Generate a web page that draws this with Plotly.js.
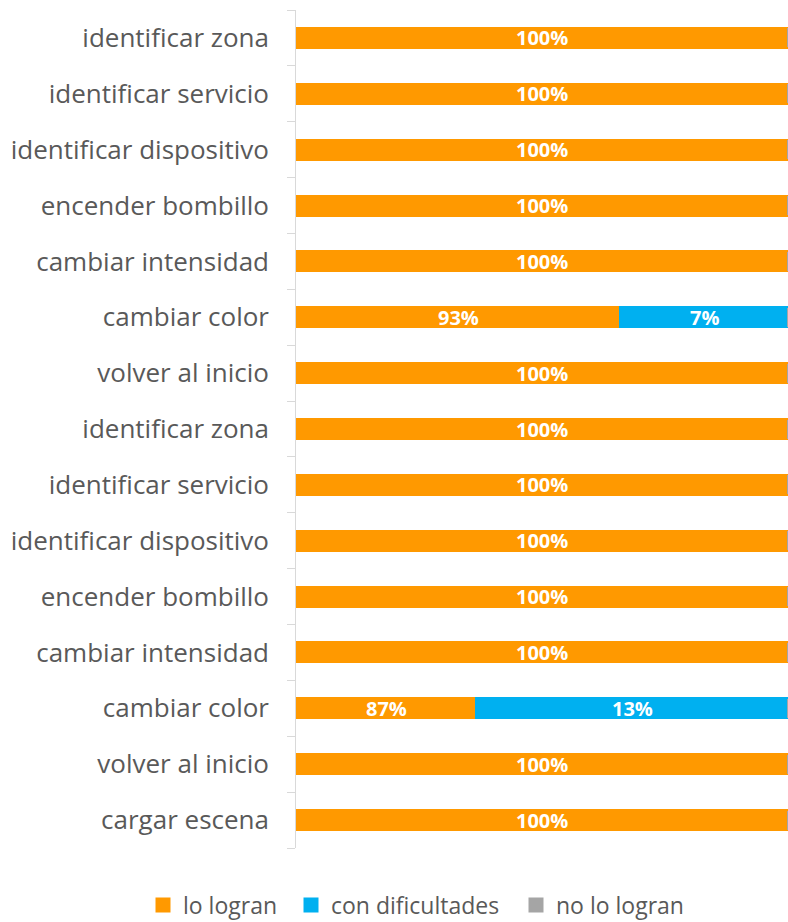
<!DOCTYPE html>
<html>
<head>
<meta charset="utf-8">
<script src="https://cdn.plot.ly/plotly-3.0.1.min.js"></script>
<style>
  html, body { margin: 0; padding: 0; background: #fff; }
  #chart { width: 788px; height: 922px; }
</style>
</head>
<body>
<div id="chart"></div>
<script>
// Tasks, listed top to bottom
const categories = [
  "identificar zona", "identificar servicio", "identificar dispositivo",
  "encender bombillo", "cambiar intensidad", "cambiar color", "volver al inicio",
  "identificar zona", "identificar servicio", "identificar dispositivo",
  "encender bombillo", "cambiar intensidad", "cambiar color", "volver al inicio",
  "cargar escena"
];
// Share of participants (%) per outcome
const loLogran        = [100, 100, 100, 100, 100, 93, 100, 100, 100, 100, 100, 100, 87, 100, 100];
const conDificultades = [0, 0, 0, 0, 0, 7, 0, 0, 0, 0, 0, 0, 13, 0, 0];
const noLoLogran      = [0, 0, 0, 0, 0, 0, 0, 0, 0, 0, 0, 0, 0, 0, 0];

const seriesNames  = ["lo logran", "con dificultades", "no lo logran"];
const seriesValues = [loLogran, conDificultades, noLoLogran];
const seriesColors = ["#FF9900", "#00B0F0", "#A5A5A5"];
const legendIds    = ["legend", "legend2", "legend3"];

// Value axis starts above zero so the differences stand out
const xMin = 79.5, xMax = 100;
const pos = categories.map((_, i) => i);
const FONT = "'Open Sans', 'DejaVu Sans', sans-serif";

const traces = seriesValues.map((vals, s) => ({
  type: "bar",
  orientation: "h",
  name: seriesNames[s],
  legend: legendIds[s],
  y: pos,
  x: vals,
  width: 0.34,
  marker: { color: seriesColors[s], line: { width: 3, color: seriesColors[s] } },
  textposition: "none",
  hoverinfo: "x+name"
}));

// Value labels, centred in the visible part of each segment
const annotations = [];
pos.forEach((p, i) => {
  let base = 0;
  seriesValues.forEach(vals => {
    const v = vals[i];
    const end = base + v;
    if (v > 0) {
      const start = Math.max(base, xMin);
      annotations.push({
        x: (start + Math.min(end, xMax)) / 2, y: p,
        xref: "x", yref: "y",
        text: v + "%", showarrow: false,
        font: { family: FONT, size: 20, color: "#FFFFFF", weight: "bold" }
      });
    }
    base = end;
  });
});

// Invisible helper trace so the tick-mark axis is drawn
traces.push({
  type: "scatter", x: [xMin], y: [0], yaxis: "y2",
  mode: "markers", marker: { opacity: 0 }, showlegend: false, hoverinfo: "skip"
});

const legendBase = {
  orientation: "h", xanchor: "left", y: -0.068, yanchor: "middle",
  font: { size: 23, color: "#595959" }, itemwidth: 30, bgcolor: "rgba(0,0,0,0)"
};

const layout = {
  width: 788, height: 922,
  margin: { l: 296, r: 0, t: 10, b: 74, autoexpand: false },
  paper_bgcolor: "#FFFFFF", plot_bgcolor: "#FFFFFF",
  barmode: "stack",
  font: { family: FONT, color: "#595959" },
  xaxis: {
    range: [xMin, xMax], showgrid: false, zeroline: false,
    showticklabels: false, showline: false, ticks: "", fixedrange: true
  },
  yaxis: {
    range: [14.5, -0.5], tickvals: pos, ticktext: categories,
    ticks: "", showgrid: false, zeroline: false, showline: false,
    ticklabelstandoff: 26,
    tickfont: { size: 26, color: "#595959" }
  },
  yaxis2: {
    overlaying: "y", side: "left", anchor: "x",
    range: [14.5, -0.5],
    tickvals: pos.concat([pos.length]).map(v => v - 0.5),
    showticklabels: false, ticks: "outside", ticklen: 8, tickwidth: 1,
    tickcolor: "#D9D9D9", showline: true, linecolor: "#D9D9D9", linewidth: 1,
    showgrid: false, zeroline: false
  },
  showlegend: true,
  legend:  Object.assign({}, legendBase, { x: (143 - 296) / 492 }),
  legend2: Object.assign({}, legendBase, { x: (291 - 296) / 492 }),
  legend3: Object.assign({}, legendBase, { x: (516 - 296) / 492 }),
  annotations: annotations
};

Plotly.newPlot("chart", traces, layout, { displayModeBar: false, staticPlot: true });
</script>
</body>
</html>
